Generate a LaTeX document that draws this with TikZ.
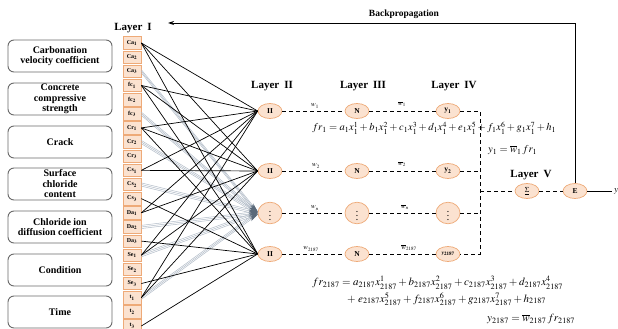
\documentclass[tikz,border=0pt]{standalone}
\usepackage{mathptmx}
\usepackage{fontspec}
\setmainfont{Liberation Serif}
\usetikzlibrary{arrows.meta,shapes.geometric}
\definecolor{ofill}{RGB}{251,226,208}
\definecolor{oline}{RGB}{238,170,120}
\definecolor{gbox}{RGB}{105,105,105}
\definecolor{gline}{RGB}{178,188,200}
\definecolor{gtip}{RGB}{90,105,122}
\begin{document}
\begin{tikzpicture}[x=1pt,y=-1pt,
 feat/.style={draw=gbox,line width=0.9pt,rounded corners=6pt,minimum width=104pt,minimum height=32pt,align=center,font=\fontsize{10}{10.5}\selectfont\bfseries,inner sep=1pt},
 inp/.style={draw=oline,fill=ofill,line width=0.7pt,minimum width=18pt,minimum height=12.5pt,inner sep=0pt,font=\fontsize{6}{6}\selectfont\bfseries},
 neu/.style={ellipse,draw=oline,fill=ofill,line width=0.7pt,minimum width=24pt,minimum height=15pt,inner sep=0pt,font=\fontsize{7.5}{7.5}\selectfont\bfseries},
 lay/.style={font=\fontsize{11}{11}\selectfont\bfseries,inner sep=0pt},
 dsh/.style={dash pattern=on 4pt off 3pt,line width=0.9pt},
 blk/.style={line width=0.7pt},
 gry/.style={gline,line width=0.5pt},
 gtp/.style={gry,-{Stealth[length=9pt,width=3pt,color=gtip]}},
 wl/.style={font=\fontsize{7}{7}\selectfont,inner sep=0pt},
 eq/.style={font=\fontsize{10.5}{11}\selectfont,inner sep=0pt,anchor=west},
 eqb/.style={eq,font=\fontsize{11}{12}\selectfont},
]
\useasboundingbox (0,0) rectangle (618,329);
\fill[white] (0,0) rectangle (618,329);

% feature boxes
\node[feat] (f1) at (60,56) {Carbonation\\velocity coefficient};
\node[feat] (f2) at (60,99) {Concrete\\compressive\\strength};
\node[feat] (f3) at (60,142) {Crack};
\node[feat] (f4) at (60,184) {Surface\\chloride\\content};
\node[feat] (f5) at (60,227) {Chloride ion\\diffusion coefficient};
\node[feat] (f6) at (60,270) {Condition};
\node[feat] (f7) at (60,312) {Time};

% input nodes
\foreach \nm/\lb [count=\i from 0] in {
 ca1/Ca$_{\mathbf 1}$,ca2/Ca$_{\mathbf 2}$,ca3/Ca$_{\mathbf 3}$,
 fc1/fc$_{\mathbf 1}$,fc2/fc$_{\mathbf 2}$,fc3/fc$_{\mathbf 3}$,
 cr1/Cr$_{\mathbf 1}$,cr2/Cr$_{\mathbf 2}$,cr3/Cr$_{\mathbf 3}$,
 cs1/Cs$_{\mathbf 1}$,cs2/Cs$_{\mathbf 2}$,cs3/Cs$_{\mathbf 3}$,
 da1/Da$_{\mathbf 1}$,da2/Da$_{\mathbf 2}$,da3/Da$_{\mathbf 3}$,
 se1/Se$_{\mathbf 1}$,se2/Se$_{\mathbf 2}$,se3/Se$_{\mathbf 3}$,
 t1/t$_{\mathbf 1}$,t2/t$_{\mathbf 2}$,t3/t$_{\mathbf 3}$}
 \node[inp] (\nm) at (132,{43+14.15*\i}) {\lb};

% layer II
\node[neu] (h1) at (270,111) {II};
\node[neu] (h2) at (270,171) {II};
\node[neu] (h3) at (270,213) {$\vdots$};
\node[neu] (h4) at (270,254) {II};
% layer III
\node[neu] (n1) at (357,111) {N};
\node[neu] (n2) at (357,171) {N};
\node[neu] (n3) at (357,213) {$\vdots$};
\node[neu] (n4) at (357,254) {N};
% layer IV
\node[neu] (y1) at (448,111) {y$_{\mathbf 1}$};
\node[neu] (y2) at (448,171) {y$_{\mathbf 2}$};
\node[neu] (y3) at (448,213) {$\vdots$};
\node[neu,font=\fontsize{5}{5}\selectfont\bfseries] (y4) at (448,254) {y$_{\mathbf{2187}}$};
% layer V
\node[neu] (sg) at (527,191) {$\underline{\Sigma}$};
\node[neu] (ee) at (575,191) {E};

% layer labels
\node[lay] (L1) at (133,28) {Layer\hspace{5pt}I};
\node[lay] (L2) at (272,86) {Layer\hspace{5pt}II};
\node[lay] (L3) at (363,86) {Layer\hspace{5pt}III};
\node[lay] (L4) at (454,86) {Layer\hspace{5pt}IV};
\node[lay] (L5) at (531,175) {Layer\hspace{5pt}V};

% grey bundles to dots node
\foreach \s in {ca3,fc3,cr2,cs2,da2,se1,t1}{
  \foreach \o in {-1.6,0,1.6}
    \draw[gtp] ([yshift=\o pt]\s.east) -- ([yshift=\o pt]h3.west);
}

% black connections
\foreach \s/\t in {ca1/h1,ca1/h2,ca1/h4,fc1/h1,fc1/h2,fc1/h4,cr1/h1,cr1/h2,cr1/h4,
  cs1/h1,cs1/h2,cs3/h4,da1/h1,da1/h2,da3/h4,se1/h1,se1/h2,se3/h4,t1/h1,t1/h2,t3/h4}
  \draw[blk] (\s.east) -- (\t.west);

% dashed paths
\coordinate (vt) at (480,111);
\coordinate (v2) at (480,171);
\coordinate (v3) at (480,213);
\coordinate (vb) at (480,254);
\coordinate (vm) at (480,191);
\foreach \a/\b in {h1/n1,n1/y1,h2/n2,n2/y2,h3/n3,n3/y3,h4/n4,n4/y4}
  \draw[dsh] (\a) -- (\b);
\draw[dsh] (y1) -- (vt) -- (vb) -- (y4);
\draw[dsh] (y2) -- (v2);
\draw[dsh] (y3) -- (v3);
\draw[dsh] (vm) -- (sg) -- (ee);

% output and backpropagation
\coordinate (yo) at (612,191);
\draw[line width=0.9pt] (ee) -- (yo);
\node[anchor=west,inner sep=0pt,font=\fontsize{9}{9}\selectfont] (ylab) at (614,191) {$y$};
\coordinate (bp) at (168,23);
\draw[line width=0.9pt,-{Stealth[length=6pt,width=4pt]}] (ee.north) |- (bp);
\node[font=\fontsize{9.5}{9.5}\selectfont\bfseries,inner sep=0pt] (bpl) at (404,14) {Backpropagation};

% weights
\node[wl] (w1) at (315,106) {$w_{1}$};
\node[wl] (wb1) at (402,104) {$\overline{w}_{1}$};
\node[wl] (w2) at (316,166) {$w_{2}$};
\node[wl] (wb2) at (402,164) {$\overline{w}_{2}$};
\node[wl] (w3) at (315,208) {$w_{n}$};
\node[wl] (wb3) at (405,207) {$\overline{w}_{n}$};
\node[wl] (w4) at (311,249) {$w_{2187}$};
\node[wl] (wb4) at (409,248) {$\overline{w}_{2187}$};

% equations
\node[eq] (e1) at (312,128) {$fr_1 = a_1x_1^1 + b_1x_1^2 + c_1x_1^3 + d_1x_1^4 + e_1x_1^5 + f_1x_1^6 + g_1x_1^7 + h_1$};
\node[eq] (e2) at (488,150) {$y_1 = \overline{w}_1\, fr_1$};
\node[eqb] (e3) at (312,283) {$fr_{2187} = a_{2187}x_{2187}^1 + b_{2187}x_{2187}^2 + c_{2187}x_{2187}^3 + d_{2187}x_{2187}^4$};
\node[eqb] (e4) at (347,299) {$+\; e_{2187}x_{2187}^5 + f_{2187}x_{2187}^6 + g_{2187}x_{2187}^7 + h_{2187}$};
\node[eqb] (e5) at (487,319) {$y_{2187} = \overline{w}_{2187}\,fr_{2187}$};
\end{tikzpicture}
\end{document}
